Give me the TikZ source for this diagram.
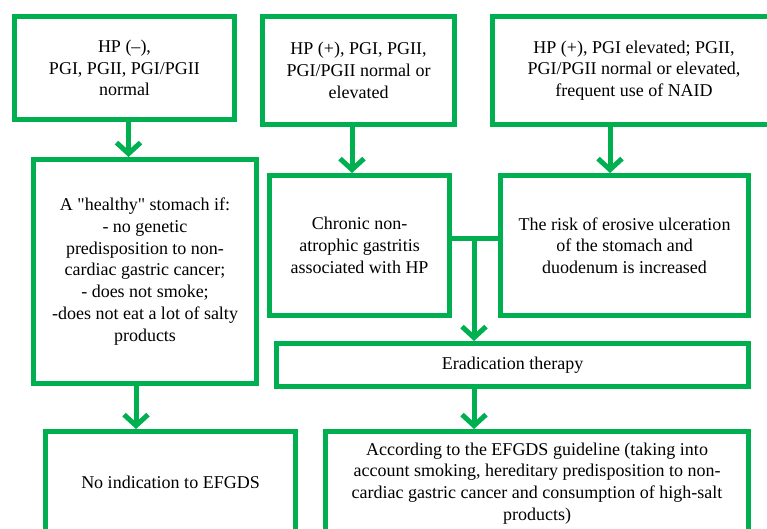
\documentclass[tikz,border=0pt]{standalone}
\usepackage{fontspec}
\setmainfont{Liberation Serif}[Ligatures=TeXOff]
\usetikzlibrary{arrows.meta}
\definecolor{boxgreen}{RGB}{0,176,80}

\begin{document}
\begin{tikzpicture}[x=1pt, y=-1pt,
			block/.style = {draw=boxgreen, line width=5pt, rectangle, align=center, inner sep=2pt, font=\fontsize{18}{21.7}\selectfont},
			link/.style  = {draw=boxgreen, line width=5pt},
			arr/.style   = {link, -{Straight Barb[length=11pt,width=24pt]}},]

			\useasboundingbox (0,0) rectangle (767,529);
			\clip (0,0) rectangle (767,529);

			%% TOP ROW: TEST RESULTS
			\node[block, minimum width=220pt, minimum height=103pt] (hpneg) at (124.5,68) {HP (–),\\PGI, PGII, PGI/PGII\\normal};
			\node[block, minimum width=192pt, minimum height=108pt] (hppos) at (358.5,70.5) {HP (+), PGI, PGII,\\PGI/PGII normal or\\elevated};
			\node[block, minimum width=283pt, minimum height=108pt] (hpnaid) at (634,70.5) {HP (+), PGI elevated; PGII,\\PGI/PGII normal or elevated,\\frequent use of NAID};

			%% MIDDLE ROW: CONCLUSIONS
			\node[block, minimum width=223pt, minimum height=224pt] (healthy) at (145,271.5) {A "healthy" stomach if:\\- no genetic\\predisposition to non-\\cardiac gastric cancer;\\- does not smoke;\\-does not eat a lot of salty\\products};
			\node[block, minimum width=180pt, minimum height=140pt] (chronic) at (359.5,245.5) {Chronic non-\\atrophic gastritis\\associated with HP};
			\node[block, minimum width=248pt, minimum height=140pt] (risk) at (624.5,245.5) {The risk of erosive ulceration\\of the stomach and\\duodenum is increased};
			\node[block, minimum width=472pt, minimum height=43pt] (erad) at (512.5,365) {Eradication therapy};

			%% BOTTOM ROW
			\node[block, minimum width=250pt, minimum height=101pt] (noind) at (170.5,482) {No indication to EFGDS};
			\node[block, minimum width=423pt, minimum height=104pt] (guide) at (537,483.5) {According to the EFGDS guideline (taking into\\account smoking, hereditary predisposition to non-\\cardiac gastric cancer and consumption of high-salt\\products)};

			%% ARROWS
			\draw[arr] ([xshift=4pt]hpneg.south) -- ([xshift=4pt]hpneg.south |- healthy.north);
			\draw[arr] ([xshift=-6.5pt]hppos.south) -- ([xshift=-6.5pt]hppos.south |- chronic.north);
			\draw[arr] ([xshift=-24pt]hpnaid.south) -- ([xshift=-24pt]hpnaid.south |- risk.north);
			\draw[arr] ([xshift=-9pt]healthy.south) -- ([xshift=-9pt]healthy.south |- noind.north);
			% junction between the two middle boxes
			\coordinate (jn) at (474,238);
			\draw[link] (chronic.east |- jn) -- (risk.west |- jn);
			\draw[arr] (jn) -- (jn |- erad.north);
			\draw[arr] (jn |- erad.south) -- (jn |- guide.north);
\end{tikzpicture}
\end{document}
